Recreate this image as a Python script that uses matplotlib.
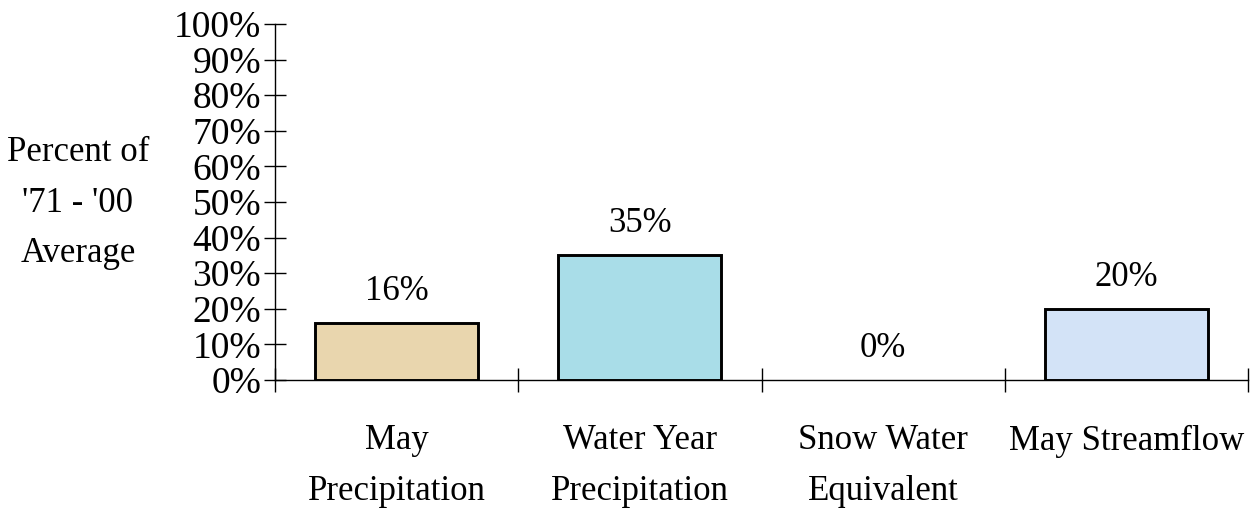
import numpy as np
import matplotlib
matplotlib.use("Agg")
import matplotlib.pyplot as plt

# data
categories = ["May\nPrecipitation", "Water Year\nPrecipitation", "Snow Water\nEquivalent", "May Streamflow"]
values = [16, 35, 0, 20]
bar_colors = ["#E9D6AE", "#A9DDE8", "#D3E3F7", "#D3E3F7"]
yticks = list(range(0, 101, 10))
ytick_labels = [f"{v}%" for v in yticks]

plt.rcParams['font.family'] = ['Liberation Serif', 'DejaVu Serif']

fig = plt.figure(figsize=(12.53, 5.15), dpi=100)
ax = fig.add_axes([275 / 1253, (515 - 380) / 515, (1248 - 275) / 1253, (380 - 24) / 515])

x = np.arange(len(categories))
bars = ax.bar(x, values, width=0.67, color=bar_colors, edgecolor="black", linewidth=2.1, zorder=3)
for b, v in zip(bars, values):
    if v == 0:
        b.set_visible(False)

# value labels above bars
for xi, v in zip(x, values):
    ax.annotate(f"{v}%", (xi, v), xytext=(0, 11), textcoords="offset points",
                ha="center", va="bottom", fontsize=25)

ax.set_xlim(-0.5, 3.5)
ax.set_ylim(0, 100)

ax.set_yticks(yticks)
ax.set_yticklabels(ytick_labels, fontsize=27)
ax.tick_params(axis="y", direction="inout", length=16, width=1, pad=2)

# category separators on x axis
ax.set_xticks([-0.5, 0.5, 1.5, 2.5, 3.5])
ax.set_xticklabels([])
ax.tick_params(axis="x", which="major", direction="inout", length=17, width=1)
ax.set_xticks(x, minor=True)
ax.set_xticklabels(categories, minor=True, fontsize=25, linespacing=1.7)
ax.tick_params(axis="x", which="minor", length=0, pad=32)

for s in ["top", "right"]:
    ax.spines[s].set_visible(False)
ax.spines["left"].set_linewidth(1)
ax.spines["bottom"].set_linewidth(1)

fig.text(78 / 1253, 1 - 203 / 515, "Percent of\n'71 - '00\nAverage", ha="center", va="center",
         fontsize=25, linespacing=1.7)

fig.savefig("out.png", dpi=100)
